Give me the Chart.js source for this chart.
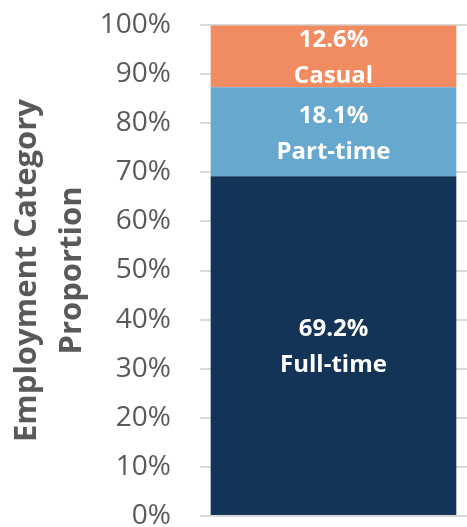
<!DOCTYPE html>
<html>
<head>
<meta charset="utf-8">
<script src="https://cdn.jsdelivr.net/npm/chart.js"></script>
<style>
    html, body { margin: 0; padding: 0; background: #ffffff; overflow: hidden; }
    #employmentChart { display: block; }
</style>
</head>
<body>
<canvas id="employmentChart" width="467" height="527"></canvas>
<script>
// Employment category shares (%)
const categories = ['Full-time', 'Part-time', 'Casual'];
const shares = [69.2, 18.1, 12.6];
const colors = ['#133457', '#67A8CF', '#F08B62'];
const yTicks = [0, 10, 20, 30, 40, 50, 60, 70, 80, 90, 100];

// draw "value% / name" in the middle of each segment
const segmentLabels = {
    id: 'segmentLabels',
    afterDatasetsDraw(chart) {
        const ctx = chart.ctx;
        ctx.save();
        ctx.fillStyle = '#ffffff';
        ctx.font = 'bold 24px "Open Sans"';
        ctx.textAlign = 'center';
        ctx.textBaseline = 'middle';
        chart.data.datasets.forEach((ds, i) => {
            const bar = chart.getDatasetMeta(i).data[0];
            if (!bar) return;
            const mid = (bar.y + bar.base) / 2;
            ctx.fillText(ds.data[0].toFixed(1) + '%', bar.x, mid - 16);
            ctx.fillText(ds.label, bar.x, mid + 20);
        });
        ctx.restore();
    }
};

new Chart(document.getElementById('employmentChart'), {
    type: 'bar',
    data: {
        labels: [''],
        datasets: categories.map((name, i) => ({
            label: name,
            data: [shares[i]],
            backgroundColor: colors[i],
            barPercentage: 0.92,
            categoryPercentage: 1
        }))
    },
    options: {
        responsive: false,
        animation: false,
        layout: { padding: { top: 25, left: 5, right: 0, bottom: 11 } },
        plugins: {
            legend: { display: false },
            tooltip: { enabled: false }
        },
        scales: {
            x: {
                stacked: true,
                display: false
            },
            y: {
                stacked: true,
                min: 0,
                max: 100,
                afterBuildTicks: axis => { axis.ticks = yTicks.map(v => ({ value: v })); },
                afterFit: axis => {
                    // keep the plot box fixed; the 0% label is allowed to run off the bottom
                    axis.width = 195;
                    axis.paddingTop = 0;
                    axis.paddingBottom = 0;
                },
                border: { display: false },
                grid: { color: '#d9d9d9', lineWidth: 2, drawTicks: false },
                ticks: {
                    padding: 29,
                    color: '#595959',
                    font: { family: 'Open Sans', size: 28 },
                    callback: v => v + '%'
                },
                title: {
                    display: true,
                    text: ['Employment Category', 'Proportion'],
                    color: '#595959',
                    font: { family: 'Open Sans', size: 31, weight: 'bold', lineHeight: 1.45 },
                    padding: { top: 0, bottom: 0 }
                }
            }
        }
    },
    plugins: [segmentLabels]
});
</script>
</body>
</html>
